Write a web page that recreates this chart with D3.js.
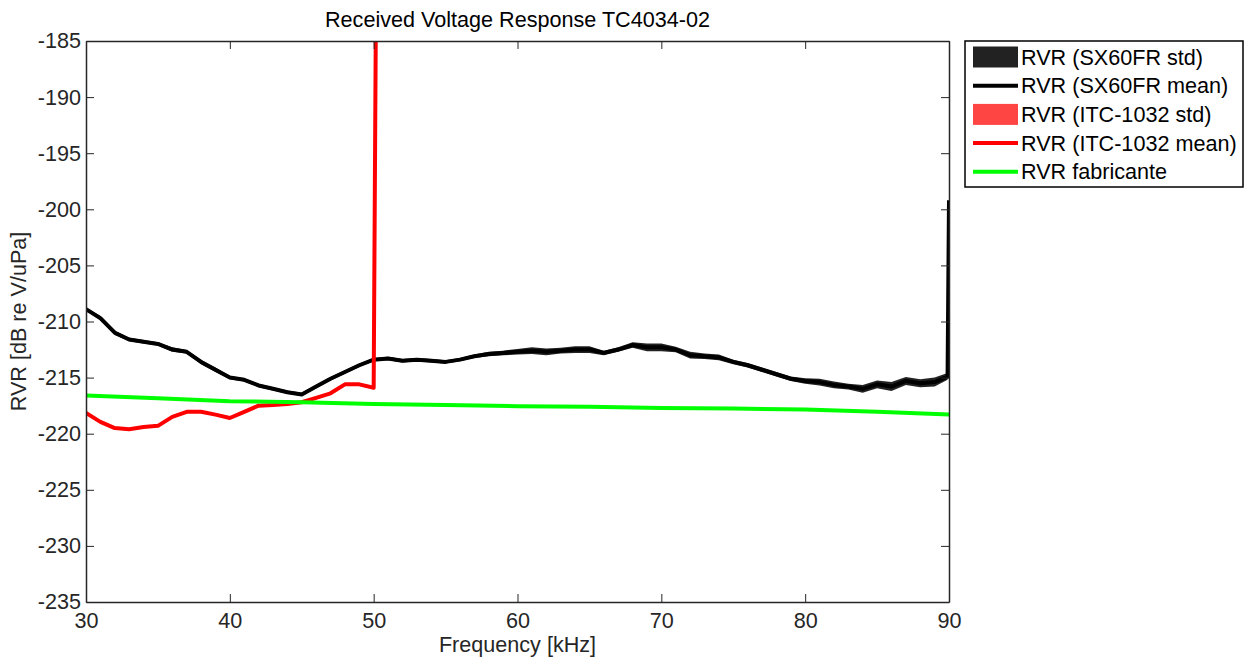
<!DOCTYPE html>
<html>
<head>
<meta charset="utf-8">
<script src="https://cdn.jsdelivr.net/npm/d3@7"></script>
<style>
  html, body { margin: 0; padding: 0; background: #fff; }
  svg { display: block; font-family: "Liberation Sans", Arial, sans-serif; }
</style>
</head>
<body>
<svg id="chart" width="1246" height="657"></svg>
<script>
// ---------------- DATA ----------------
const titleText = "Received Voltage Response TC4034-02";
const xLabelText = "Frequency [kHz]";
const yLabelText = "RVR [dB re V/uPa]";
const xTicks = [30, 40, 50, 60, 70, 80, 90];
const yTicks = [-235, -230, -225, -220, -215, -210, -205, -200, -195, -190, -185];

const freqSX = [30,31,32,33,34,35,36,37,38,39,40,41,42,43,44,45,46,47,48,49,50,
  51,52,53,54,55,56,57,58,59,60,61,62,63,64,65,66,67,68,69,70,
  71,72,73,74,75,76,77,78,79,80,81,82,83,84,85,86,87,88,89,89.9,90];
const sxMean = [-208.9,-209.7,-211.0,-211.6,-211.8,-212.0,-212.5,-212.7,-213.6,-214.3,-215.0,
  -215.2,-215.7,-216.0,-216.3,-216.5,-215.8,-215.1,-214.5,-213.9,-213.4,
  -213.3,-213.5,-213.4,-213.5,-213.6,-213.4,-213.1,-212.9,-212.8,-212.7,
  -212.6,-212.7,-212.6,-212.5,-212.5,-212.8,-212.5,-212.1,-212.3,-212.3,
  -212.5,-213.0,-213.1,-213.2,-213.6,-213.9,-214.3,-214.7,-215.1,-215.3,
  -215.4,-215.65,-215.8,-216.0,-215.6,-215.8,-215.3,-215.5,-215.4,-214.9,-199.2];
const sxStd = [0.15,0.2,0.2,0.15,0.15,0.15,0.2,0.15,0.2,0.2,0.15,
  0.15,0.15,0.15,0.15,0.15,0.15,0.15,0.15,0.15,0.15,
  0.15,0.15,0.15,0.15,0.15,0.15,0.15,0.2,0.2,0.25,
  0.3,0.3,0.25,0.3,0.3,0.2,0.2,0.25,0.35,0.35,
  0.25,0.3,0.25,0.25,0.2,0.2,0.2,0.2,0.2,0.25,
  0.3,0.3,0.25,0.35,0.35,0.4,0.35,0.35,0.4,0.3,0.2];

const freqITC = [30,31,32,33,34,35,36,37,38,39,40,41,42,43,44,45,46,47,48,49,50,51];
const itcMean = [-218.15,-218.95,-219.5,-219.6,-219.4,-219.3,-218.5,-218.05,-218.05,-218.3,-218.6,
  -218.05,-217.5,-217.45,-217.35,-217.2,-216.8,-216.4,-215.6,-215.6,-215.9,0];
const itcStd = [0.1,0.1,0.1,0.1,0.1,0.1,0.1,0.1,0.1,0.1,0.1,
  0.1,0.1,0.1,0.1,0.1,0.1,0.1,0.1,0.1,0.1,0.1];

const freqFab = [30,35,40,45,50,55,60,65,70,75,80,85,90];
const fabValues = [-216.6,-216.85,-217.1,-217.2,-217.35,-217.45,-217.55,-217.6,-217.7,-217.75,-217.85,-218.05,-218.3];

const legendLabels = ["RVR (SX60FR std)", "RVR (SX60FR mean)", "RVR (ITC-1032 std)", "RVR (ITC-1032 mean)", "RVR fabricante"];

// ---------------- CHART ----------------
const svg = d3.select("#chart");
const L = 86, R = 949, T = 41, B = 602;
const axisColor = "#262626";
const fontSize = 21.6;
const lineW = 4;

const x = d3.scaleLinear().domain([30, 90]).range([L, R]);
const y = d3.scaleLinear().domain([-235, -185]).range([B, T]);

svg.append("defs").append("clipPath").attr("id", "clip")
  .append("rect").attr("x", L).attr("y", T).attr("width", R - L).attr("height", B - T);

const plot = svg.append("g").attr("clip-path", "url(#clip)");

// SX60FR std band
const sxRows = freqSX.map((f, i) => ({ f, m: sxMean[i], s: sxStd[i] }));
plot.append("path").datum(sxRows)
  .attr("fill", "#222222")
  .attr("d", d3.area().x(d => x(d.f)).y0(d => y(d.m - d.s)).y1(d => y(d.m + d.s)));
plot.append("path").datum(sxRows)
  .attr("fill", "none").attr("stroke", "#000").attr("stroke-width", lineW)
  .attr("stroke-linejoin", "round")
  .attr("d", d3.line().x(d => x(d.f)).y(d => y(d.m)));

// ITC std band & mean
const itcRows = freqITC.map((f, i) => ({ f, m: itcMean[i], s: itcStd[i] }));
plot.append("path").datum(itcRows)
  .attr("fill", "#ff4444")
  .attr("d", d3.area().x(d => x(d.f)).y0(d => y(d.m - d.s)).y1(d => y(d.m + d.s)));
plot.append("path").datum(itcRows)
  .attr("fill", "none").attr("stroke", "#ff0000").attr("stroke-width", lineW)
  .attr("stroke-linejoin", "round")
  .attr("d", d3.line().x(d => x(d.f)).y(d => y(d.m)));

// Fabricante
const fabRows = freqFab.map((f, i) => ({ f, v: fabValues[i] }));
plot.append("path").datum(fabRows)
  .attr("fill", "none").attr("stroke", "#00ff00").attr("stroke-width", lineW)
  .attr("d", d3.line().x(d => x(d.f)).y(d => y(d.v)));

// Axes (MATLAB-style box with inward ticks on all sides)
const tickLen = 8;
const fmt = d => String(d);
function styleAxis(g) {
  g.selectAll("path.domain").attr("stroke", axisColor).attr("stroke-width", 1.5);
  g.selectAll(".tick line").attr("stroke", axisColor).attr("stroke-width", 1);
  g.selectAll("text").attr("fill", axisColor)
    .attr("font-size", fontSize).attr("font-family", '"Liberation Sans", Arial, sans-serif');
  g.attr("font-size", null).attr("font-family", null);
}
svg.append("g").attr("transform", `translate(0,${B})`)
  .call(d3.axisBottom(x).tickValues(xTicks).tickFormat(fmt).tickSizeInner(-tickLen).tickSizeOuter(0).tickPadding(11))
  .call(styleAxis);
svg.append("g").attr("transform", `translate(0,${T})`)
  .call(d3.axisTop(x).tickValues(xTicks).tickSizeInner(-tickLen).tickSizeOuter(0).tickFormat(""))
  .call(styleAxis);
svg.append("g").attr("transform", `translate(${L},0)`)
  .call(d3.axisLeft(y).tickValues(yTicks).tickFormat(fmt).tickSizeInner(-tickLen).tickSizeOuter(0).tickPadding(5))
  .call(styleAxis);
svg.append("g").attr("transform", `translate(${R},0)`)
  .call(d3.axisRight(y).tickValues(yTicks).tickSizeInner(-tickLen).tickSizeOuter(0).tickFormat(""))
  .call(styleAxis);

// Title & labels
svg.append("text").attr("x", (L + R) / 2).attr("y", 27)
  .attr("text-anchor", "middle").attr("font-size", fontSize).attr("fill", "#000")
  .text(titleText);
svg.append("text").attr("x", (L + R) / 2).attr("y", 652)
  .attr("text-anchor", "middle").attr("font-size", fontSize).attr("fill", axisColor)
  .text(xLabelText);
svg.append("text")
  .attr("transform", `translate(26,${(T + B) / 2}) rotate(-90)`)
  .attr("text-anchor", "middle").attr("font-size", fontSize).attr("fill", axisColor)
  .text(yLabelText);

// Legend
const lg = svg.append("g");
const lgX = 965, lgY = 41, lgW = 278, lgH = 146, rowH = 28.7;
lg.append("rect").attr("x", lgX).attr("y", lgY).attr("width", lgW).attr("height", lgH)
  .attr("fill", "#fff").attr("stroke", "#000").attr("stroke-width", 1.5);
const swX0 = 973, swX1 = 1018;
const kinds = [
  { type: "patch", color: "#222222" },
  { type: "line", color: "#000000" },
  { type: "patch", color: "#ff4444" },
  { type: "line", color: "#ff0000" },
  { type: "line", color: "#00ff00" }
];
legendLabels.forEach((lab, i) => {
  const cy = 57 + i * rowH;
  const k = kinds[i];
  if (k.type === "patch") {
    lg.append("rect").attr("x", swX0).attr("y", cy - 10.5).attr("width", swX1 - swX0).attr("height", 21)
      .attr("fill", k.color);
  } else {
    lg.append("line").attr("x1", swX0).attr("x2", swX1).attr("y1", cy).attr("y2", cy)
      .attr("stroke", k.color).attr("stroke-width", lineW);
  }
  lg.append("text").attr("x", 1021).attr("y", cy).attr("dy", "0.35em")
    .attr("font-size", fontSize).attr("fill", "#000").text(lab);
});
</script>
</body>
</html>
